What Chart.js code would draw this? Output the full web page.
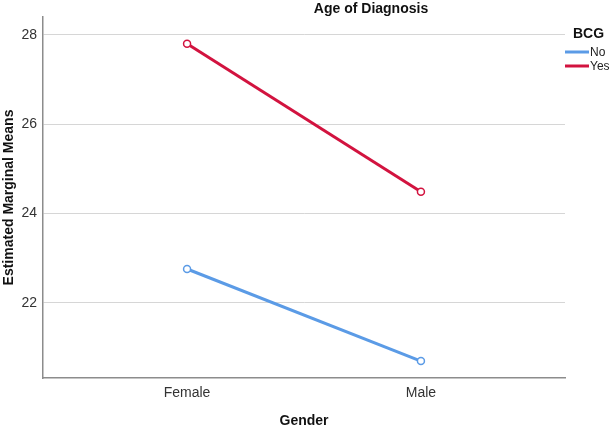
<!DOCTYPE html>
<html>
<head>
<meta charset="utf-8">
<script src="https://cdn.jsdelivr.net/npm/chart.js@4/dist/chart.umd.min.js"></script>
<style>
  body { margin: 0; background: #fff; }
  #wrap { width: 613px; height: 430px; }
</style>
</head>
<body>
<div id="wrap"><canvas id="emm"></canvas></div>
<script>
// data
const genders = ["Female", "Male"];
const groups = ["No", "Yes"];
const noMeans = [22.76, 20.7];
const yesMeans = [27.8, 24.49];
const yTicks = [22, 24, 26, 28];
const colors = ["#5b9be6", "#d2133f"];

const FONT = "'Liberation Sans', Arial, sans-serif";

// title + legend drawn by hand so they sit where SPSS puts them
const sideBits = {
  id: "sideBits",
  afterDraw(chart) {
    const c = chart.ctx;
    c.save();
    c.fillStyle = "#111";
    c.font = "bold 14px " + FONT;
    c.textAlign = "center";
    c.textBaseline = "middle";
    c.fillText("Age of Diagnosis", 371, 9);

    c.textAlign = "left";
    c.fillText("BCG", 573, 34);
    c.font = "12px " + FONT;
    groups.forEach((g, i) => {
      const y = 52 + i * 14;
      c.strokeStyle = colors[i];
      c.lineWidth = 3;
      c.beginPath();
      c.moveTo(565, y);
      c.lineTo(589, y);
      c.stroke();
      c.fillStyle = "#222";
      c.fillText(g, 590, y + 1);
    });
    c.restore();
  }
};

function makeSet(label, vals, col) {
  return {
    label: label,
    data: vals.map((v, i) => ({ x: i, y: v })),
    borderColor: col,
    backgroundColor: col,
    borderWidth: 3,
    pointRadius: 3.5,
    pointBorderWidth: 1.5,
    pointBackgroundColor: "#fff",
    pointBorderColor: col,
    tension: 0
  };
}

new Chart(document.getElementById("emm"), {
  type: "line",
  data: {
    datasets: [
      makeSet(groups[0], noMeans, colors[0]),
      makeSet(groups[1], yesMeans, colors[1])
    ]
  },
  options: {
    responsive: true,
    maintainAspectRatio: false,
    animation: false,
    layout: { padding: { top: 17, right: 48, left: 0, bottom: 0 } },
    plugins: {
      legend: { display: false },
      title: { display: false },
      tooltip: { enabled: false }
    },
    scales: {
      x: {
        type: "linear",
        min: -0.616,
        max: 1.616,
        afterBuildTicks(ax) { ax.ticks = genders.map((g, i) => ({ value: i })); },
        afterFit(ax) { ax.height = 52; },
        ticks: {
          callback: (v) => genders[v] || "",
          color: "#333",
          font: { family: FONT, size: 14 },
          padding: 7,
          maxRotation: 0
        },
        grid: { display: false, drawTicks: false },
        border: { display: true, color: "#8c8c8c", width: 1.5 },
        title: {
          display: true,
          text: "Gender",
          color: "#111",
          font: { family: FONT, size: 14, weight: "bold" },
          padding: { top: 0, bottom: 0 }
        }
      },
      y: {
        min: 20.32,
        max: 28.4,
        afterBuildTicks(ax) { ax.ticks = yTicks.map(v => ({ value: v })); },
        afterFit(ax) { ax.width = 43; },
        ticks: {
          color: "#333",
          font: { family: FONT, size: 14 },
          padding: 6
        },
        grid: { color: "#d6d6d6", lineWidth: 1, drawTicks: false },
        border: { display: true, color: "#8c8c8c", width: 1.5 },
        title: {
          display: true,
          text: "Estimated Marginal Means",
          color: "#111",
          font: { family: FONT, size: 14, weight: "bold" },
          padding: { top: 1, bottom: 0 }
        }
      }
    }
  },
  plugins: [sideBits]
});
</script>
</body>
</html>
